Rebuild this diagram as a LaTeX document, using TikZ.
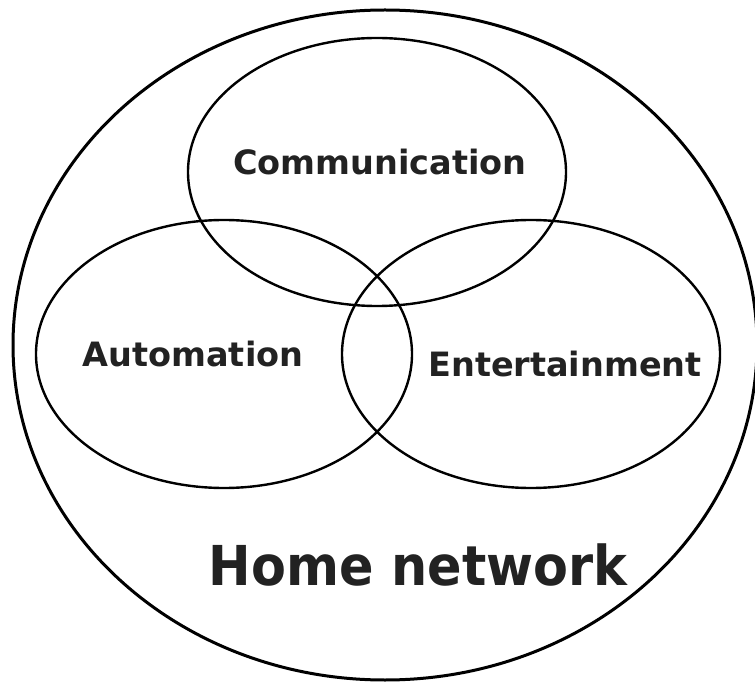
\documentclass[tikz,border=0pt]{standalone}
\usepackage{fontspec}
\setmainfont{DejaVu Sans}
\definecolor{txt}{HTML}{222222}
\tikzset{
  outerring/.style={line width=3pt, draw=black},
  setring/.style={line width=2.4pt, draw=black},
  setlabel/.style={font=\bfseries\fontsize{33.5}{38}\selectfont, text=txt, anchor=base, inner sep=0pt},
  biglabel/.style={font=\bfseries\fontsize{55}{60}\selectfont, text=txt, anchor=base, inner sep=0pt, xscale=0.925}
}
\begin{document}
\begin{tikzpicture}[x=1pt,y=-1pt]
\useasboundingbox (0,0) rectangle (755,684);
\draw[outerring] (385,345) ellipse [x radius=372, y radius=335];
\draw[setring] (377,172) ellipse [x radius=189, y radius=134];
\draw[setring] (224,354) ellipse [x radius=188, y radius=134];
\draw[setring] (531,354) ellipse [x radius=189, y radius=134];
\node[setlabel] (comm) at (380,175) {Communication};
\node[setlabel] (auto) at (193,367) {Automation};
\node[setlabel] (ent) at (565,377) {Entertainment};
\node[biglabel] (home) at (418,585) {Home network};
\end{tikzpicture}
\end{document}
